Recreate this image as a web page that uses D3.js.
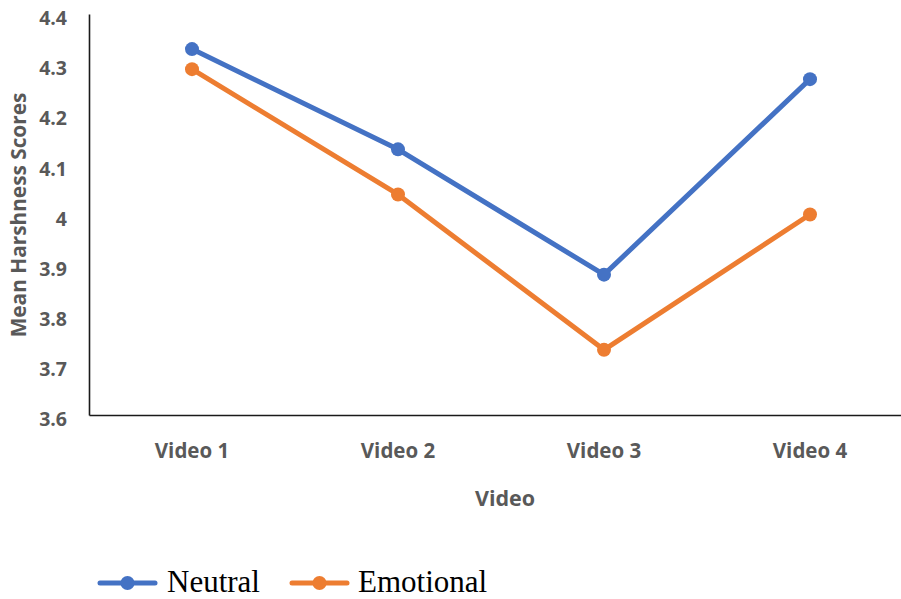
<!DOCTYPE html>
<html><head><meta charset="utf-8">
<script src="https://cdn.jsdelivr.net/npm/d3@7"></script>
<style>body{margin:0;background:#fff;}svg{display:block;}</style>
</head><body>
<script>
const categories = ["Video 1","Video 2","Video 3","Video 4"];
const neutral = [4.33, 4.13, 3.88, 4.27];
const emotional = [4.29, 4.04, 3.73, 4.00];
const yTicks = [3.6, 3.7, 3.8, 3.9, 4.0, 4.1, 4.2, 4.3, 4.4];
const seriesNames = ["Neutral", "Emotional"];
const colors = ["#4472C4", "#ED7D31"];

(function () {
const W = 901, H = 599;
const svg = d3.select("body").append("svg").attr("width", W).attr("height", H);
const mLeft = 89, mRight = 913, mTop = 14, mBottom = 415;

const x = d3.scaleBand().domain(categories).range([mLeft, mRight]);
const y = d3.scaleLinear().domain([3.6, 4.4]).range([mBottom, mTop]);

// Axes
const yAxis = svg.append("g").attr("transform", `translate(${mLeft},0)`)
  .call(d3.axisLeft(y).tickValues(yTicks).tickSize(0).tickPadding(22)
    .tickFormat(d => d === 4 ? "4" : d3.format(".1f")(d)));
yAxis.select(".domain").attr("stroke", "#1a1a1a").attr("stroke-width", 1.6);
yAxis.selectAll("text").attr("font-family", "Open Sans").attr("font-weight", "bold")
  .attr("font-size", 19.5).attr("fill", "#595959").attr("dy", "0.55em");

const xAxis = svg.append("g").attr("transform", `translate(0,${mBottom})`)
  .call(d3.axisBottom(x).tickSize(0).tickPadding(28));
xAxis.select(".domain").attr("stroke", "#1a1a1a").attr("stroke-width", 1.6);
xAxis.selectAll("text").attr("font-family", "Open Sans").attr("font-weight", "bold")
  .attr("font-size", 20.5).attr("fill", "#595959");

// Axis titles
svg.append("text").attr("x", 505).attr("y", 498).attr("dy", "0.35em")
  .attr("text-anchor", "middle").attr("font-family", "Open Sans").attr("font-weight", "bold")
  .attr("font-size", 21.5).attr("fill", "#595959").text("Video");
svg.append("text").attr("transform", `translate(19,215) rotate(-90)`)
  .attr("dy", "0.35em").attr("text-anchor", "middle").attr("font-family", "Open Sans")
  .attr("font-weight", "bold").attr("font-size", 20.8).attr("fill", "#595959")
  .text("Mean Harshness Scores");

// Series
const series = [neutral, emotional];
const line = d3.line().x((d, i) => x(categories[i]) + x.bandwidth() / 2).y(d => y(d));
series.forEach((vals, si) => {
  svg.append("path").datum(vals).attr("d", line).attr("fill", "none")
    .attr("stroke", colors[si]).attr("stroke-width", 5).attr("stroke-linejoin", "round");
  svg.selectAll(null).data(vals).enter().append("circle")
    .attr("cx", (d, i) => x(categories[i]) + x.bandwidth() / 2)
    .attr("cy", d => y(d)).attr("r", 7).attr("fill", colors[si]);
});

// Legend
const legendItems = [{x0: 100, tx: 167}, {x0: 292, tx: 358}];
legendItems.forEach((it, i) => {
  const g = svg.append("g");
  g.append("line").attr("x1", it.x0).attr("x2", it.x0 + 55).attr("y1", 583).attr("y2", 583)
    .attr("stroke", colors[i]).attr("stroke-width", 5).attr("stroke-linecap", "round");
  g.append("circle").attr("cx", it.x0 + 27.5).attr("cy", 583).attr("r", 7).attr("fill", colors[i]);
  g.append("text").attr("x", it.tx).attr("y", 592).attr("font-family", "Liberation Serif")
    .attr("font-size", 31).attr("fill", "#000").text(seriesNames[i]);
});
})();
</script>
</body></html>
